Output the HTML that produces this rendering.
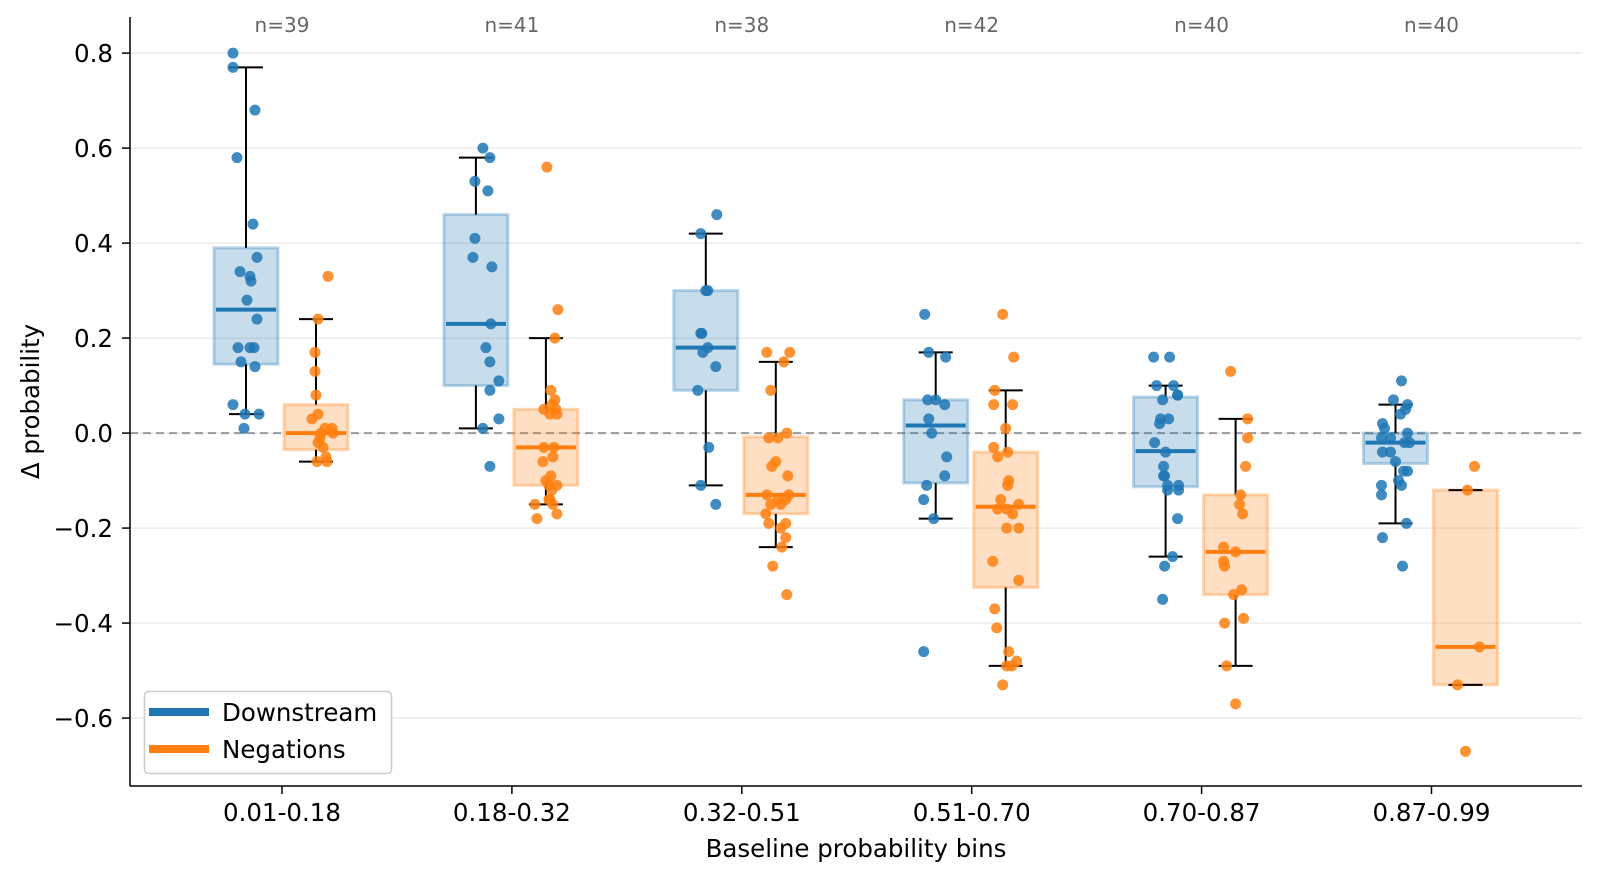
<!DOCTYPE html>
<html><head><meta charset="utf-8"><style>
html,body{margin:0;padding:0;background:#fff;}
svg{display:block;font-family:"DejaVu Sans","Liberation Sans",sans-serif;}
</style></head><body>
<svg id="chart" width="1600" height="882" viewBox="0 0 1600 882" xmlns="http://www.w3.org/2000/svg"></svg>
<script>
const categories = ["0.01-0.18","0.18-0.32","0.32-0.51","0.51-0.70","0.70-0.87","0.87-0.99"];
const counts = [39,41,38,42,40,40];
const yTicks = [-0.6,-0.4,-0.2,0.0,0.2,0.4,0.6,0.8];
const seriesNames = ["Downstream","Negations"];
// box stats per category: [whiskerLow, q1, median, q3, whiskerHigh]
const downstreamStats = [
 [0.04,0.145,0.26,0.39,0.77],[0.01,0.10,0.23,0.46,0.58],[-0.11,0.09,0.18,0.30,0.42],
 [-0.18,-0.105,0.016,0.07,0.17],[-0.26,-0.113,-0.038,0.076,0.10],[-0.19,-0.064,-0.02,0.0,0.06]];
const negationStats = [
 [-0.06,-0.035,0.0,0.06,0.24],[-0.15,-0.11,-0.03,0.05,0.20],[-0.24,-0.17,-0.13,-0.008,0.15],
 [-0.49,-0.325,-0.155,-0.04,0.09],[-0.49,-0.34,-0.25,-0.13,0.03],[-0.53,-0.53,-0.45,-0.12,-0.12]];
// point values per category
const downstreamValues = [
 [0.80,0.77,0.68,0.58,0.44,0.37,0.34,0.33,0.32,0.28,0.24,0.18,0.18,0.18,0.15,0.14,0.06,0.04,0.04,0.01],
 [0.60,0.58,0.53,0.51,0.41,0.37,0.35,0.23,0.18,0.15,0.11,0.09,0.03,0.01,-0.07],
 [0.46,0.42,0.30,0.30,0.21,0.21,0.18,0.17,0.14,0.09,-0.03,-0.11,-0.15],
 [0.25,0.17,0.16,0.07,0.07,0.06,0.03,0.0,-0.05,-0.09,-0.11,-0.14,-0.18,-0.46],
 [0.16,0.16,0.10,0.10,0.08,0.08,0.07,0.03,0.03,0.02,-0.02,-0.04,-0.07,-0.09,-0.09,-0.11,-0.11,-0.12,-0.12,-0.18,-0.26,-0.28,-0.35],
 [0.11,0.07,0.06,0.05,0.04,0.02,0.01,0.0,-0.01,-0.01,-0.02,-0.02,-0.04,-0.04,-0.06,-0.08,-0.08,-0.10,-0.11,-0.11,-0.13,-0.19,-0.22,-0.28]];
const downstreamJitter = [
 [-13,-13,9,-9,7,11,-6,4,5,1,11,4,8,-8,-5,9,-13,-1,13,-2],
 [7,14,-1,12,-1,-3,16,15,10,14,23,14,23,7,14],
 [11,-5,0,2,-5,-4,2,-3,10,-8,3,-5,10],
 [-11,-7,10,-8,0,9,-7,-4,11,9,-9,-12,-2,-12],
 [-12,4,-9,8,12,12,-3,-5,3,-6,-11,0,-2,-2,-1,2,13,2,13,12,7,-1,-3],
 [6,-2,12,10,5,-13,-11,12,-14,-5,9,14,-13,-5,0,8,12,3,6,-14,-14,11,-13,7]];
const negationValues = [
 [0.33,0.24,0.17,0.13,0.08,0.03,0.04,0.01,0.01,0.0,-0.01,-0.02,-0.03,-0.06,-0.05,-0.06,0.0],
 [0.56,0.26,0.20,0.09,0.07,0.05,0.04,0.06,0.04,0.05,-0.03,-0.03,-0.05,-0.09,-0.11,-0.11,-0.14,-0.15,-0.17,-0.18,-0.15,-0.14,-0.06,-0.10,-0.12],
 [0.17,0.17,0.15,0.09,0.0,-0.01,-0.01,-0.06,-0.07,-0.09,-0.13,-0.14,-0.13,-0.14,-0.15,-0.15,-0.17,-0.19,-0.19,-0.20,-0.22,-0.24,-0.28,-0.34],
 [0.25,0.16,0.09,0.06,0.06,0.01,-0.03,-0.05,-0.04,-0.10,-0.11,-0.14,-0.16,-0.16,-0.17,-0.15,-0.20,-0.20,-0.27,-0.31,-0.37,-0.41,-0.46,-0.48,-0.49,-0.49,-0.53],
 [0.13,0.03,-0.01,-0.07,-0.13,-0.15,-0.17,-0.24,-0.25,-0.27,-0.28,-0.33,-0.34,-0.39,-0.40,-0.49,-0.57],
 [-0.07,-0.12,-0.45,-0.53,-0.67]];
const negationJitter = [
 [12,2,-1,-1,0,-4,2,9,16,5,4,2,7,1,10,11,17],
 [1,12,9,5,9,-2,4,6,11,10,8,-2,7,5,3,11,3,7,11,-9,-11,4,-3,0,6],
 [-9,14,8,-5,11,2,-7,0,-4,12,-9,2,13,10,-5,5,-10,-7,10,5,10,6,-3,11],
 [-3,8,-11,-12,7,0,-12,-8,2,3,2,-5,-8,1,7,13,1,13,-13,13,-11,-9,3,11,1,6,-3],
 [-5,12,12,10,5,4,7,-12,0,-12,-11,6,-2,8,-11,-9,0],
 [9,2,14,-8,0]];
const colors = {down:"#1f77b4", neg:"#ff7f0e", downFill:"rgba(31,119,180,0.25)", negFill:"rgba(255,127,14,0.25)", downEdge:"rgba(31,119,180,0.3)", negEdge:"rgba(255,127,14,0.3)"};

const svg = document.getElementById('chart');
const NS = "http://www.w3.org/2000/svg";
const plotL = 130, plotR = 1582, plotT = 17, plotB = 786;
const yMin = -0.743, yMax = 0.876;
const x0 = 282, band = 229.9;
const FS = 24.5;
function yScale(v){ return plotB - (v - yMin) / (yMax - yMin) * (plotB - plotT); }
function xScale(i){ return x0 + i * band; }
function mk(tag, attrs, parent){ const e = document.createElementNS(NS, tag); for (const k in attrs) e.setAttribute(k, attrs[k]); (parent||svg).appendChild(e); return e; }

const grid = mk('g', {});


yTicks.forEach(t => {
  const gl = mk('line', {x1:plotL, x2:plotR, y1:yScale(t), y2:yScale(t), stroke:"#ebebeb", "stroke-width":1.5}, grid);
  
  
});
const zl = mk('line', {x1:plotL, x2:plotR, y1:yScale(0), y2:yScale(0), stroke:"#999", "stroke-width":2, "stroke-dasharray":"8,5"});



function drawGroup(i, stats, vals, jit, cx, col, fill, edge, key){
  const g = mk('g', {});
  
  
  const [wl,q1,md,q3,wh] = stats;
  const bw = 64, cap = 17;
  const box = mk('rect', {x:cx-bw/2, y:yScale(q3), width:bw, height:Math.max(1,yScale(q1)-yScale(q3)), fill:fill, stroke:edge, "stroke-width":3}, g);
  
  
  const w1 = mk('line', {x1:cx, x2:cx, y1:yScale(q3), y2:yScale(wh), stroke:"#000", "stroke-width":2}, g);
  
  
  const w2 = mk('line', {x1:cx, x2:cx, y1:yScale(q1), y2:yScale(wl), stroke:"#000", "stroke-width":2}, g);
  
  
  const c1 = mk('line', {x1:cx-cap, x2:cx+cap, y1:yScale(wh), y2:yScale(wh), stroke:"#000", "stroke-width":2}, g);
  
  
  const c2 = mk('line', {x1:cx-cap, x2:cx+cap, y1:yScale(wl), y2:yScale(wl), stroke:"#000", "stroke-width":2}, g);
  
  
  const m = mk('line', {x1:cx-bw/2+2, x2:cx+bw/2-2, y1:yScale(md), y2:yScale(md), stroke:col, "stroke-width":4}, g);
  
  
  vals.forEach((v, k) => {
    const p = mk('circle', {cx: cx + (jit[k]||0) * band / 230, cy:yScale(v), r:5.5, fill:col, "fill-opacity":0.85}, g);
    
    
  });
}
categories.forEach((c, i) => {
  const cx = xScale(i);
  drawGroup(i, downstreamStats[i], downstreamValues[i], downstreamJitter[i], cx - 36, colors.down, colors.downFill, colors.downEdge, 'downstream');
  drawGroup(i, negationStats[i], negationValues[i], negationJitter[i], cx + 34, colors.neg, colors.negFill, colors.negEdge, 'negations');
  const n = mk('text', {x:cx, y:32, "text-anchor":"middle", "font-size":20, fill:"#666"});
  n.textContent = "n=" + counts[i];
  
  
  const tk = mk('line', {x1:cx, x2:cx, y1:plotB, y2:plotB+8, stroke:"#000", "stroke-width":1.5});
  
  
  const tl = mk('text', {x:cx, y:821, "text-anchor":"middle", "font-size":FS, fill:"#000"});
  tl.textContent = c;
  
  
});
yTicks.forEach(t => {
  const tk = mk('line', {x1:plotL-8, x2:plotL, y1:yScale(t), y2:yScale(t), stroke:"#000", "stroke-width":1.5});
  
  
  const tl = mk('text', {x:113, y:yScale(t)+9, "text-anchor":"end", "font-size":FS, fill:"#000"});
  tl.textContent = (t < 0 ? "\u2212" : "") + Math.abs(t).toFixed(1);
  
  
});
const ay = mk('line', {x1:plotL, x2:plotL, y1:plotT, y2:plotB, stroke:"#000", "stroke-width":1.5});


const ax = mk('line', {x1:plotL, x2:plotR, y1:plotB, y2:plotB, stroke:"#000", "stroke-width":1.5});


const xt = mk('text', {x:(plotL+plotR)/2, y:857, "text-anchor":"middle", "font-size":FS, fill:"#000"});
xt.textContent = "Baseline probability bins";


const yt = mk('text', {x:0, y:0, "text-anchor":"middle", "font-size":FS, fill:"#000", transform:"translate(39," + ((plotT+plotB)/2) + ") rotate(-90)"});
yt.textContent = "\u0394 probability";


const lg = mk('g', {});


const lbox = mk('rect', {x:144.5, y:691.5, width:247, height:82, rx:4, fill:"rgba(255,255,255,0.85)", stroke:"#ccc", "stroke-width":1.5}, lg);


seriesNames.forEach((s, i) => {
  const yy = 712 + i * 37;
  const ln = mk('line', {x1:149, x2:209, y1:yy, y2:yy, stroke: i===0 ? colors.down : colors.neg, "stroke-width":8}, lg);
  
  
  const tx = mk('text', {x:222, y:yy+9, "font-size":FS, fill:"#000"}, lg);
  tx.textContent = s;
  
  
});
</script>
</body></html>
